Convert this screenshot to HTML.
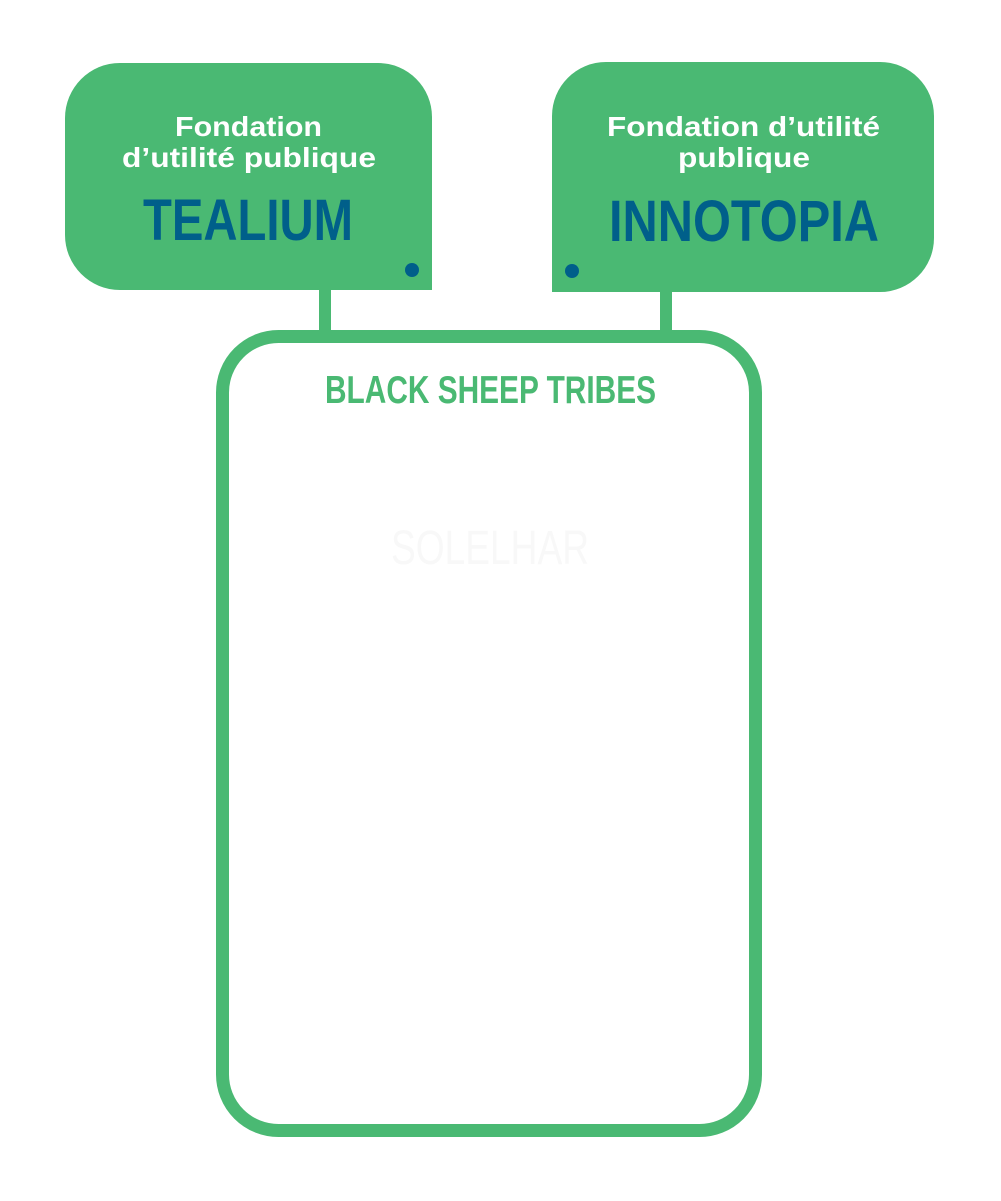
<!DOCTYPE html>
<html><head><meta charset="utf-8"><style>html,body{margin:0;padding:0;background:#fff;}svg{display:block;}</style></head>
<body>
<svg width="1001" height="1201" viewBox="0 0 1001 1201" xmlns="http://www.w3.org/2000/svg">
<rect width="1001" height="1201" fill="#fff"/>
<!-- connectors -->
<rect x="319" y="288" width="12" height="48" fill="#4ab973"/>
<rect x="660" y="290" width="12" height="46" fill="#4ab973"/>
<!-- left box: bottom-right square -->
<path d="M120,63 H378 A54,54 0 0 1 432,117 V290 H120 A55,55 0 0 1 65,235 V118 A55,55 0 0 1 120,63 Z" fill="#4ab973"/>
<!-- right box: bottom-left square -->
<path d="M606,62 H880 A54,54 0 0 1 934,116 V238 A54,54 0 0 1 880,292 H552 V116 A54,54 0 0 1 606,62 Z" fill="#4ab973"/>
<circle cx="412" cy="270" r="7" fill="#005f8a"/>
<circle cx="572" cy="271" r="7" fill="#005f8a"/>
<!-- big box -->
<rect x="222.5" y="336.5" width="533" height="794" rx="56" ry="56" fill="#fff" stroke="#4ab973" stroke-width="13"/>
<g font-family="Liberation Sans, sans-serif" font-weight="bold">
<text x="175" y="136" font-size="28" fill="#fff" textLength="147" lengthAdjust="spacingAndGlyphs">Fondation</text>
<text x="122" y="167" font-size="28" fill="#fff" textLength="254" lengthAdjust="spacingAndGlyphs">d’utilité publique</text>
<text x="143" y="240" font-size="58" fill="#005f8a" textLength="210" lengthAdjust="spacingAndGlyphs">TEALIUM</text>
<text x="607" y="136" font-size="28" fill="#fff" textLength="273" lengthAdjust="spacingAndGlyphs">Fondation d’utilité</text>
<text x="678" y="167" font-size="28" fill="#fff" textLength="132" lengthAdjust="spacingAndGlyphs">publique</text>
<text x="609" y="241" font-size="58" fill="#005f8a" textLength="270" lengthAdjust="spacingAndGlyphs">INNOTOPIA</text>
<text x="325" y="403" font-size="39" fill="#4ab973" textLength="331" lengthAdjust="spacingAndGlyphs">BLACK SHEEP TRIBES</text>
<text x="391" y="564" font-size="48" font-weight="normal" fill="#f8f8f8" textLength="198" lengthAdjust="spacingAndGlyphs">SOLELHAR</text>
</g>
</svg>
</body></html>
